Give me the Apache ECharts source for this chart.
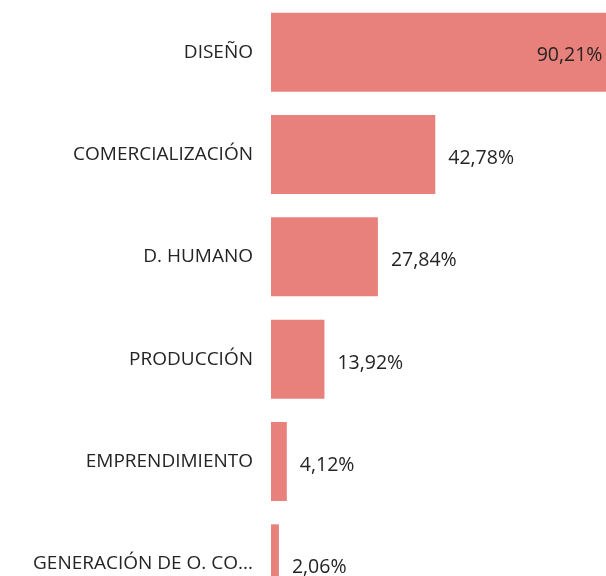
<!DOCTYPE html>
<html>
<head>
<meta charset="utf-8">
<script src="https://cdn.jsdelivr.net/npm/echarts@6/dist/echarts.min.js"></script>
<style>
  html, body { margin: 0; padding: 0; background: #fff; }
  #main { width: 606px; height: 576px; }
</style>
</head>
<body>
<div id="main"></div>
<script>
  var categories = ['DISEÑO', 'COMERCIALIZACIÓN', 'D. HUMANO', 'PRODUCCIÓN', 'EMPRENDIMIENTO', 'GENERACIÓN DE O. CO...'];
  var values = [90.21, 42.78, 27.84, 13.92, 4.12, 2.06];

  var chart = echarts.init(document.getElementById('main'));
  var fmt = function (p) { return p.value.toFixed(2).replace('.', ',') + '%'; };

  chart.setOption({
    animation: false,
    grid: {left: 271, top: 1, width: 384, height: 614, outerBoundsMode: 'none', containLabel: false},
    xAxis: {type: 'value', min: 0, max: 100, show: false},
    yAxis: {
      type: 'category',
      inverse: true,
      data: categories,
      axisLine: {show: false},
      axisTick: {show: false},
      axisLabel: {
        margin: 18,
        color: '#252423',
        fontFamily: 'Open Sans',
        fontSize: 19,
        padding: [7, 0, 0, 0]
      }
    },
    series: [{
      type: 'bar',
      data: values.map(function (v, i) {
        return {
          value: v,
          label: i === 0
            ? {position: 'insideRight', distance: 15, offset: [0, 3]}
            : {position: 'right', distance: 13, offset: [0, 4]}
        };
      }),
      barWidth: 79,
      itemStyle: {color: '#E8817B'},
      label: {
        show: true,
        formatter: fmt,
        color: '#252423',
        fontFamily: 'Open Sans',
        fontSize: 19.5
      }
    }]
  });
</script>
</body>
</html>
